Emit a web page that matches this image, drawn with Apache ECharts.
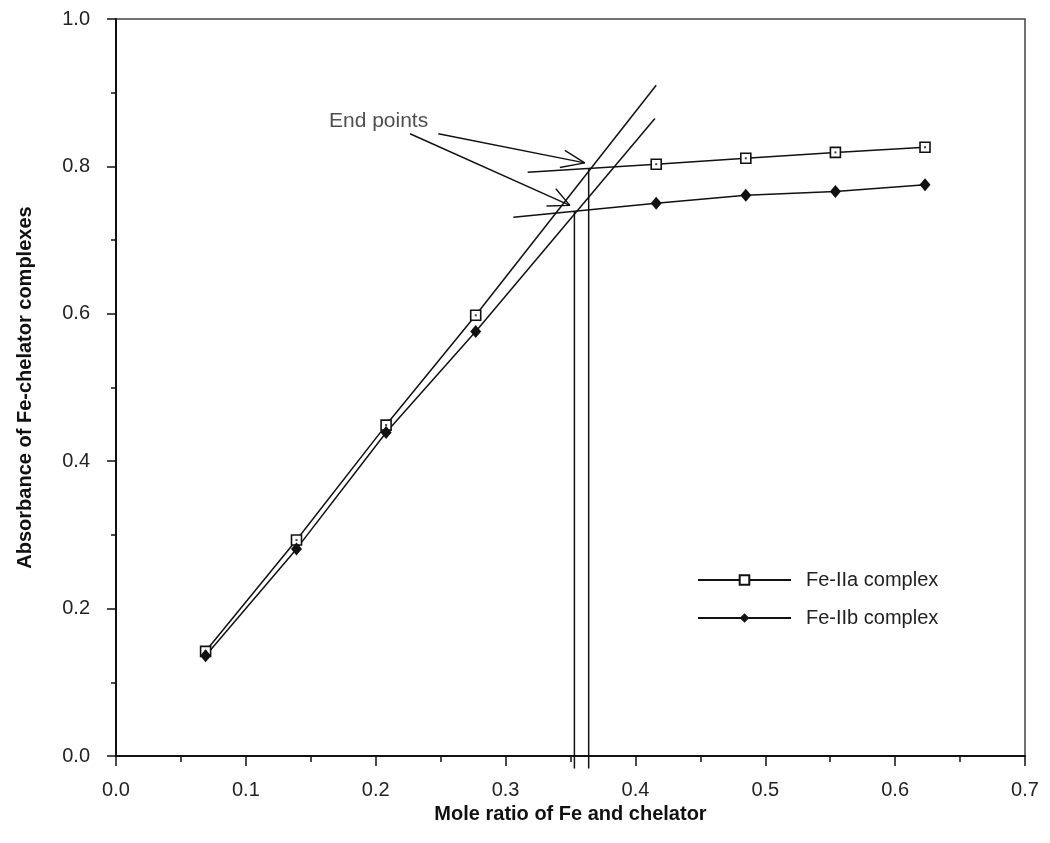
<!DOCTYPE html>
<html>
<head>
<meta charset="utf-8">
<script src="https://cdn.jsdelivr.net/npm/echarts@6/dist/echarts.min.js"></script>
<style>html,body{margin:0;padding:0;background:#fff}#c{width:1050px;height:843px}</style>
</head>
<body>
<div id="c"></div>
<script>
// ---- data ----
const moleRatio = [0.069, 0.139, 0.208, 0.277, 0.416, 0.485, 0.554, 0.623];
const feIIa = [0.142, 0.293, 0.449, 0.598, 0.803, 0.811, 0.819, 0.826];
const feIIb = [0.136, 0.281, 0.439, 0.576, 0.750, 0.761, 0.766, 0.775];
const seriesNames = ['Fe-IIa complex', 'Fe-IIb complex'];
// extrapolated fit lines (start / end)
const iiaSteep = [[0.277, 0.598], [0.416, 0.910]];
const iibSteep = [[0.277, 0.576], [0.415, 0.865]];
const iiaFlat = [[0.317, 0.792], [0.416, 0.803]];
const iibFlat = [[0.306, 0.731], [0.416, 0.750]];
// end-point drop lines
const endIIa = [[0.364, -0.017], [0.364, 0.797]];
const endIIb = [[0.353, -0.017], [0.353, 0.739]];
// annotation arrows
const arrow1 = [[0.2482, 0.8443], [0.3610, 0.8048]];
const arrow1Head = [[0.3456, 0.8217], [0.3610, 0.8048], [0.3418, 0.7985]];
const arrow2 = [[0.2264, 0.8443], [0.3495, 0.7471]];
const arrow2Head = [[0.3387, 0.7697], [0.3495, 0.7471], [0.3315, 0.7462]];
const annotText = 'End points';
const annotPos = [0.2022, 0.8615];
const xTicks = ['0.0', '0.1', '0.2', '0.3', '0.4', '0.5', '0.6', '0.7'];
const yTicks = ['0.0', '0.2', '0.4', '0.6', '0.8', '1.0'];
const xTitle = 'Mole ratio of Fe and chelator';
const yTitle = 'Absorbance of Fe-chelator complexes';

const FONT = '"Liberation Sans", Arial, Helvetica, sans-serif';
const INK = '#111';
const pts = a => moleRatio.map((x, i) => [x, a[i]]);

function plainLine(data, w) {
  return {
    type: 'line', data: data, symbol: 'none', silent: true, clip: false,
    lineStyle: { color: INK, width: w || 1.5 }, z: 2, animation: false
  };
}

const chart = echarts.init(document.getElementById('c'), null, { renderer: 'canvas' });
chart.setOption({
  animation: false,
  backgroundColor: '#fff',
  grid: {
    left: 116, right: 25, top: 19, bottom: 87,
    show: true, borderColor: '#444', borderWidth: 1.5, backgroundColor: 'transparent'
  },
  legend: {
    data: seriesNames,
    orient: 'vertical',
    left: 692, top: 565,
    itemWidth: 93, itemHeight: 12, itemGap: 18,
    textStyle: { fontFamily: FONT, fontSize: 20, color: '#222', padding: [0, 0, 0, 10] }
  },
  xAxis: {
    type: 'value', min: 0, max: 0.7, interval: 0.1,
    axisLine: { show: true, onZero: false, lineStyle: { color: INK, width: 2 } },
    axisTick: { show: true, inside: false, length: 10, lineStyle: { color: INK, width: 1.5 } },
    minorTick: { show: true, splitNumber: 2, length: 6, lineStyle: { color: INK, width: 1.5 } },
    splitLine: { show: false },
    axisLabel: {
      margin: 24, fontFamily: FONT, fontSize: 20, color: '#222',
      formatter: v => xTicks[Math.round(v * 10)]
    },
    name: xTitle, nameLocation: 'middle', nameGap: 33,
    nameTextStyle: { fontFamily: FONT, fontSize: 20, fontWeight: 'bold', color: '#111' }
  },
  yAxis: {
    type: 'value', min: 0, max: 1.0, interval: 0.2,
    axisLine: { show: true, onZero: false, lineStyle: { color: INK, width: 2 } },
    axisTick: { show: true, inside: false, length: 9, lineStyle: { color: INK, width: 1.5 } },
    minorTick: { show: true, splitNumber: 2, length: 5, lineStyle: { color: INK, width: 1.5 } },
    splitLine: { show: false },
    axisLabel: {
      margin: 26, fontFamily: FONT, fontSize: 20, color: '#222',
      formatter: v => yTicks[Math.round(v * 5)]
    },
    name: yTitle, nameLocation: 'middle', nameGap: 81,
    nameTextStyle: { fontFamily: FONT, fontSize: 20, fontWeight: 'bold', color: '#111' }
  },
  series: [
    plainLine(iiaSteep), plainLine(iibSteep), plainLine(iiaFlat), plainLine(iibFlat),
    plainLine(endIIa), plainLine(endIIb),
    plainLine(arrow1, 1.4), plainLine(arrow1Head, 1.4), plainLine(arrow2, 1.4), plainLine(arrow2Head, 1.4),
    {
      type: 'scatter', data: [annotPos], symbolSize: 0, silent: true, z: 3,
      label: { show: true, position: 'inside', formatter: annotText, fontFamily: FONT, fontSize: 21, color: '#222' }
    },
    {
      name: seriesNames[0], type: 'line',
      data: pts(feIIa).slice(0, 4).concat([[0.35, '-']]).concat(pts(feIIa).slice(4)),
      connectNulls: false,
      symbol: 'rect', symbolSize: 10, showSymbol: true,
      itemStyle: { color: '#fff', borderColor: INK, borderWidth: 1.6 },
      lineStyle: { color: INK, width: 1.5 }, z: 5
    },
    {
      name: seriesNames[1], type: 'line',
      data: pts(feIIb).slice(0, 4).concat([[0.35, '-']]).concat(pts(feIIb).slice(4)),
      connectNulls: false,
      symbol: 'diamond', symbolSize: [11, 13], showSymbol: true,
      itemStyle: { color: INK, borderColor: INK, borderWidth: 0 },
      lineStyle: { color: INK, width: 1.5 }, z: 5
    },
    {
      type: 'scatter', data: pts(feIIa), symbol: 'rect', symbolSize: 2, silent: true,
      itemStyle: { color: INK }, z: 6
    }
  ]
});
</script>
</body>
</html>
